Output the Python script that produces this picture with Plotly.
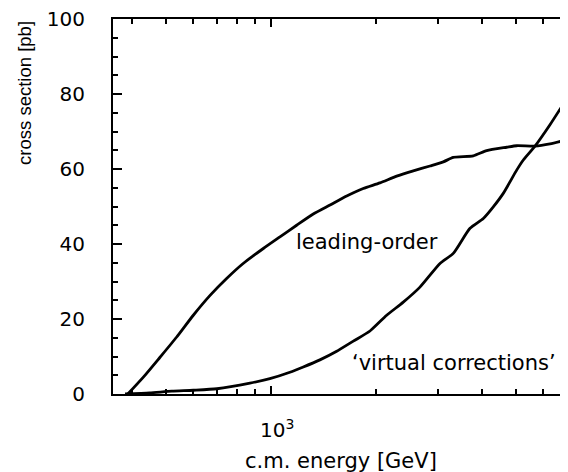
import math
import plotly.graph_objects as go

# c.m. energy [GeV] and cross section [pb]
lo_energy = [390, 432, 482, 538, 600, 670, 747, 833, 951, 1061, 1184, 1321, 1475, 1646, 1835,
             2048, 2286, 2550, 2847, 3107, 3318, 3784, 4133, 4715, 5035, 5680, 6268, 7060]
lo_sigma = [0, 4.5, 9.8, 15.2, 21.0, 26.3, 30.8, 34.8, 38.8, 41.9, 45.0, 48.0, 50.4, 52.8, 54.8,
            56.3, 58.1, 59.5, 60.8, 61.9, 63.1, 63.5, 64.9, 65.8, 66.2, 66.1, 66.7, 67.9]

vc_energy = [383, 450, 521, 600, 701, 871, 993, 1133, 1237, 1380, 1541, 1719, 1918, 2141, 2388,
             2665, 3040, 3318, 3704, 4043, 4317, 4610, 5035, 5260, 5680, 6268, 7060]
vc_sigma = [0, 0.3, 0.75, 1.0, 1.4, 2.9, 4.1, 5.8, 7.2, 9.1, 11.4, 14.1, 16.8, 21.0, 24.5,
            28.5, 34.8, 37.5, 44.2, 46.8, 49.9, 53.5, 59.7, 62.4, 66.1, 71.8, 79.3]

x_major_ticks = [1000]
x_major_text = ["\u00a0\u00a010<sup>3</sup>"]
x_minor_ticks = [400, 500, 600, 700, 800, 900, 2000, 3000, 4000, 5000, 6000, 7000]
y_ticks = [0, 20, 40, 60, 80, 100]
x_range_gev = [353.8, 7057]
y_range = [0, 100]

FONT = "DejaVu Sans"
fig = go.Figure()
fig.add_trace(go.Scatter(x=lo_energy, y=lo_sigma, mode="lines",
                         line=dict(color="black", width=2.8, shape="spline", smoothing=0.6),
                         name="leading-order", showlegend=False))
fig.add_trace(go.Scatter(x=vc_energy, y=vc_sigma, mode="lines",
                         line=dict(color="black", width=2.8, shape="spline", smoothing=0.6),
                         name="virtual corrections", showlegend=False))

# the page body adds an 8 px offset, so the figure is 8 px smaller than the window
fig.update_layout(
    width=560, height=464,
    margin=dict(l=105, r=0, t=11, b=78),
    paper_bgcolor="white", plot_bgcolor="white",
    font=dict(family=FONT, size=20, color="black"),
    xaxis=dict(type="log", range=[math.log10(x_range_gev[0]), math.log10(x_range_gev[1])],
               showline=True, linecolor="black", linewidth=2, mirror="ticks",
               showgrid=False, zeroline=False,
               tickmode="array", tickvals=x_major_ticks, ticktext=x_major_text,
               ticks="inside", ticklen=8, tickwidth=1.5, tickcolor="black",
               ticklabelstandoff=17,
               minor=dict(tickmode="array", tickvals=x_minor_ticks, ticks="inside",
                          ticklen=5, tickwidth=1.5, tickcolor="black", showgrid=False)),
    yaxis=dict(range=y_range, showline=True, linecolor="black", linewidth=2, mirror=False,
               showgrid=False, zeroline=False,
               tickmode="array", tickvals=y_ticks,
               ticks="inside", ticklen=9, tickwidth=1.5, tickcolor="black",
               ticklabelstandoff=22, ticklabeloverflow="allow",
               minor=dict(dtick=5, ticks="inside", ticklen=5, tickwidth=1.5,
                          tickcolor="black", showgrid=False)),
    annotations=[
        dict(text="leading-order", x=math.log10(1875), y=40.5, xref="x", yref="y",
             showarrow=False, font=dict(family=FONT, size=21, color="black"),
             xanchor="center", yanchor="middle"),
        dict(text="\u2018virtual corrections\u2019", x=math.log10(3335), y=8.2, xref="x", yref="y",
             showarrow=False, font=dict(family=FONT, size=21, color="black"),
             xanchor="center", yanchor="middle"),
        dict(text="c.m. energy [GeV]", x=0.5, y=-0.178, xref="paper", yref="paper",
             showarrow=False, font=dict(family=FONT, size=21, color="black"),
             xanchor="center", yanchor="middle"),
        dict(text="cross section [pb]", x=-0.196, y=0.8024, xref="paper", yref="paper",
             textangle=-90, showarrow=False,
             font=dict(family="Liberation Sans", size=18.5, color="black"),
             xanchor="center", yanchor="middle"),
    ],
)

fig.write_html("out.html")
